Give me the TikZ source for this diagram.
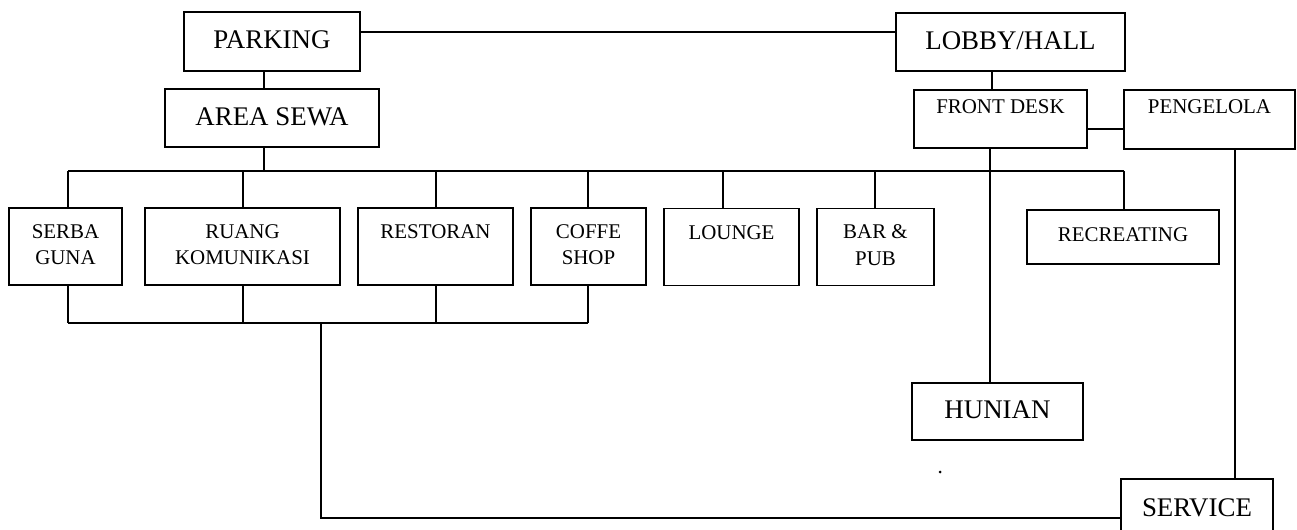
\documentclass[tikz,border=0pt]{standalone}
\usepackage{fontspec}
\setmainfont{Liberation Serif}
\begin{document}
\begin{tikzpicture}[x=1bp,y=-1bp,
  box/.style={draw, line width=1.4bp, inner sep=0, minimum width=#1},
  ln/.style={line width=1.2bp},
  bigtxt/.style={inner sep=0, font=\fontsize{27}{31}\selectfont, anchor=base},
  smtxt/.style={inner sep=0, font=\fontsize{21}{27}\selectfont, align=center, anchor=north}]
\useasboundingbox (0,0) rectangle (1297,530);
\clip (0,0) rectangle (1297,530);
% top boxes
\node[box=176bp, minimum height=59bp] (parking) at (272,41.5) {};
\node[bigtxt] (tparking) at (272,48.5) {PARKING};
\node[box=214bp, minimum height=58bp] (area) at (272,118) {};
\node[bigtxt] (tarea) at (272,125.5) {AREA SEWA};
\node[box=229bp, minimum height=58bp] (lobby) at (1010.5,42) {};
\node[bigtxt] (tlobby) at (1010.5,50) {LOBBY/HALL};
\node[box=173bp, minimum height=58bp] (fd) at (1000.5,119) {};
\node[smtxt] (tfd) at (1000.5,99.5) {FRONT DESK};
\node[box=171bp, minimum height=59bp] (peng) at (1209.5,119.5) {};
\node[smtxt] (tpeng) at (1209.5,99.5) {PENGELOLA};
% row boxes
\node[box=113bp, minimum height=77bp] (serba) at (65.5,246.5) {};
\node[smtxt] (tserba) at (65.5,224) {SERBA\\GUNA};
\node[box=195bp, minimum height=77bp] (ruang) at (242.5,246.5) {};
\node[smtxt] (truang) at (242.5,224) {RUANG\\KOMUNIKASI};
\node[box=155bp, minimum height=77bp] (resto) at (435.5,246.5) {};
\node[smtxt] (tresto) at (435.5,224.5) {RESTORAN};
\node[box=115bp, minimum height=77bp] (coffe) at (588.5,246.5) {};
\node[smtxt] (tcoffe) at (588.5,224) {COFFE\\SHOP};
\node[box=135bp, minimum height=77bp] (lounge) at (731.5,247) {};
\node[smtxt] (tlounge) at (731.5,225) {LOUNGE};
\node[box=117bp, minimum height=77bp] (bar) at (875.5,247) {};
\node[smtxt] (tbar) at (875.5,224) {BAR \&\\PUB};
\node[box=192bp, minimum height=54bp] (recr) at (1123,237) {};
\node[smtxt] (trecr) at (1123,227) {RECREATING};
% bottom boxes
\node[box=171bp, minimum height=57bp] (hunian) at (997.5,411.5) {};
\node[bigtxt] (thunian) at (997.5,418) {HUNIAN};
\node[box=152bp, minimum height=66bp] (service) at (1197,512) {};
\node[bigtxt] (tservice) at (1197,516) {SERVICE};
% helper coordinates
\coordinate (y32) at (0,32);
\coordinate (y129) at (0,129);
\coordinate (bus) at (0,171);
\coordinate (bot) at (0,323);
\coordinate (low) at (0,518);
\coordinate (x264) at (264,0);
\coordinate (x68) at (68,0);
\coordinate (x243) at (243,0);
\coordinate (x436) at (436,0);
\coordinate (x588) at (588,0);
\coordinate (x723) at (723,0);
\coordinate (x875) at (875,0);
\coordinate (x1124) at (1124,0);
\coordinate (x321) at (321,0);
\coordinate (x990) at (990,0);
\coordinate (x992) at (992,0);
\coordinate (x1235) at (1235,0);
% connectors
\draw[ln] (parking.east |- y32) -- (lobby.west |- y32);
\draw[ln] (parking.south -| x264) -- (area.north -| x264);
\draw[ln] (area.south -| x264) -- (x264 |- bus);
\draw[ln] (x68 |- bus) -- (x1124 |- bus);
\draw[ln] (x68 |- bus) -- (serba.north -| x68);
\draw[ln] (x243 |- bus) -- (ruang.north -| x243);
\draw[ln] (x436 |- bus) -- (resto.north -| x436);
\draw[ln] (x588 |- bus) -- (coffe.north -| x588);
\draw[ln] (x723 |- bus) -- (lounge.north -| x723);
\draw[ln] (x875 |- bus) -- (bar.north -| x875);
\draw[ln] (x1124 |- bus) -- (recr.north -| x1124);
\draw[ln] (serba.south -| x68) -- (x68 |- bot);
\draw[ln] (ruang.south -| x243) -- (x243 |- bot);
\draw[ln] (resto.south -| x436) -- (x436 |- bot);
\draw[ln] (coffe.south -| x588) -- (x588 |- bot);
\draw[ln] (x68 |- bot) -- (x588 |- bot);
\draw[ln] (x321 |- bot) -- (x321 |- low) -- (service.west |- low);
\draw[ln] (lobby.south -| x992) -- (fd.north -| x992);
\draw[line width=2.6bp] (fd.east |- y129) -- (peng.west |- y129);
\draw[ln] (fd.south -| x990) -- (hunian.north -| x990);
\draw[ln] (peng.south -| x1235) -- (service.north -| x1235);
\fill (940,472) circle (1.5bp);
\end{tikzpicture}
\end{document}
